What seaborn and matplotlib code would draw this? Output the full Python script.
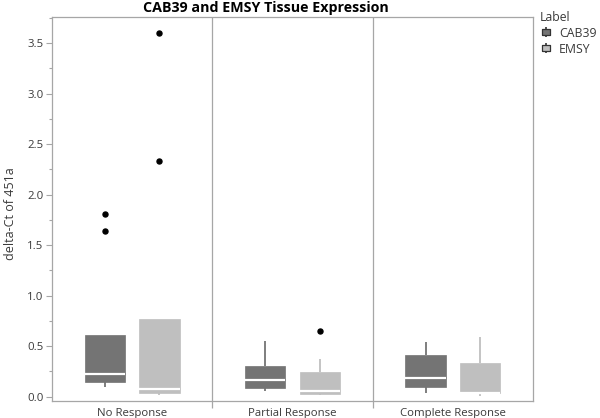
import pandas as pd
import numpy as np
import matplotlib
matplotlib.use("Agg")
import matplotlib.pyplot as plt
import seaborn as sns
from matplotlib.lines import Line2D
from matplotlib.legend_handler import HandlerTuple
from matplotlib.ticker import MultipleLocator

responses = ["No Response", "Partial Response", "Complete Response"]
labels = ["CAB39", "EMSY"]

# delta-Ct values
cab39_no = [0.093, 0.12, 0.15, 0.19, 0.225, 0.40, 0.61, 1.64, 1.81]
emsy_no = [0.017, 0.03, 0.04, 0.06, 0.073, 0.40, 0.766, 2.33, 3.60]
cab39_partial = [0.056, 0.07, 0.083, 0.12, 0.16, 0.23, 0.304, 0.42, 0.55]
emsy_partial = [0.014, 0.02, 0.027, 0.04, 0.055, 0.15, 0.24, 0.37, 0.65]
cab39_complete = [0.034, 0.07, 0.10, 0.14, 0.18, 0.30, 0.41, 0.48, 0.545]
emsy_complete = [0.01, 0.03, 0.04, 0.04, 0.04, 0.20, 0.33, 0.45, 0.59]

groups = {
    ("No Response", "CAB39"): cab39_no,
    ("No Response", "EMSY"): emsy_no,
    ("Partial Response", "CAB39"): cab39_partial,
    ("Partial Response", "EMSY"): emsy_partial,
    ("Complete Response", "CAB39"): cab39_complete,
    ("Complete Response", "EMSY"): emsy_complete,
}
rows = []
for (resp, lab), vals in groups.items():
    for v in vals:
        rows.append([resp, lab, v])
df = pd.DataFrame(rows, columns=["response", "label", "value"])

colors = {"CAB39": "#747474", "EMSY": "#bfbfbf"}
frame_gray = "#a6a6a6"
text_gray = "#3a3a3a"

sns.set_style("white")
plt.rcParams["font.family"] = ["Open Sans", "DejaVu Sans"]

fig = plt.figure(figsize=(6, 4.18), dpi=100)
ax = fig.add_axes([0.0867, 0.0414, 0.8016, 0.9172])

sns.boxplot(data=df, x="response", y="value", hue="label",
            order=responses, hue_order=labels, palette=colors,
            saturation=1, width=0.68, gap=0.26, whis=1.5,
            showcaps=False, legend=False, ax=ax,
            medianprops=dict(color="white", linewidth=1.6),
            whiskerprops=dict(linewidth=1.3),
            flierprops=dict(marker="o", markerfacecolor="black",
                            markeredgecolor="black", markersize=3.6))

# JMP style: whiskers and box edges in the fill colour
for cont, lab in zip(ax.containers, labels):
    for b in cont.boxes:
        b.set_edgecolor(colors[lab])
        b.set_linewidth(0.5)
    for w in cont.whiskers:
        w.set_color(colors[lab])

ax.set_xlim(-0.5, 2.5)
ax.set_ylim(-0.04, 3.756)
ax.yaxis.set_major_locator(MultipleLocator(0.5))
ax.yaxis.set_minor_locator(MultipleLocator(0.25))
ax.tick_params(axis="y", which="major", left=True, length=4, width=0.8,
               color=frame_gray, labelsize=8.2, labelcolor=text_gray, pad=2)
ax.tick_params(axis="y", which="minor", left=True, length=2, width=0.8,
               color=frame_gray)
ax.tick_params(axis="x", bottom=False, labelsize=8.2, labelcolor=text_gray, pad=2)
ax.set_yticklabels([f"{t:.1f}" for t in ax.get_yticks()])

for s in ax.spines.values():
    s.set_color(frame_gray)
    s.set_linewidth(0.9)

# panel separators, running a bit below the frame
trans = ax.get_xaxis_transform()
ax.vlines([0.5, 1.5], -0.018, 1, transform=trans, color=frame_gray,
          linewidth=0.9, clip_on=False)

ax.set_xlabel("")
ax.set_ylabel("")
fig.text(0.017, 0.488, "delta-Ct of 451a", rotation=90, fontsize=9,
         color=text_gray, ha="center", va="center")
fig.text(0.4425, 0.981, "CAB39 and EMSY Tissue Expression", fontsize=10.3,
         fontweight="bold", color="black", ha="center", va="center")

handles = []
for lab in labels:
    stem = Line2D([0], [0], color="#333333", marker="|", markersize=7.5,
                  markeredgewidth=1.2, linestyle="None")
    box = Line2D([0], [0], marker=[(-1, -0.7), (1, -0.7), (1, 0.7), (-1, 0.7), (-1, -0.7)],
                 markersize=6, markerfacecolor=colors[lab],
                 markeredgecolor="#333333", markeredgewidth=0.9, linestyle="None")
    handles.append((stem, box))
leg = fig.legend(handles, labels, title="Label", loc="upper left",
                 bbox_to_anchor=(0.885, 0.995), frameon=False, fontsize=8.8,
                 title_fontsize=8.8, alignment="left", handlelength=1.0,
                 handletextpad=0.6, labelspacing=0.25, borderaxespad=0.3,
                 handler_map={tuple: HandlerTuple(ndivide=1)})
for t in leg.get_texts():
    t.set_color(text_gray)
leg.get_title().set_color(text_gray)

fig.savefig("out.png", dpi=100, facecolor="white")
